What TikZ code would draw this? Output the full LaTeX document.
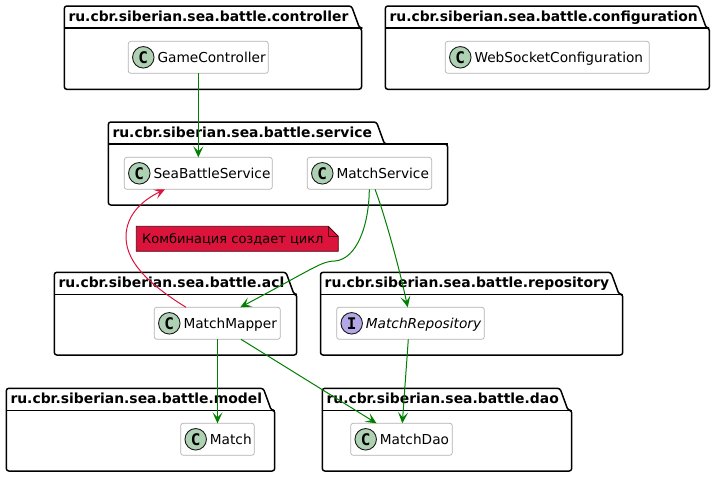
\documentclass[tikz,border=0pt]{standalone}
\usepackage{fontspec}
\setmainfont{DejaVu Sans}
\newfontfamily\spotfont{DejaVu Sans Mono}
\usetikzlibrary{arrows.meta,calc}
\definecolor{spotC}{HTML}{ADD1B2}
\definecolor{spotI}{HTML}{B4A7E5}
\definecolor{notered}{HTML}{DC143C}
\definecolor{linkgreen}{HTML}{008000}
\tikzset{
  x=1pt,y=-1pt,
  pkgline/.style={draw=black,line width=1.5pt,line join=round,fill=white},
  pkgsep/.style={draw=black,line width=1.5pt},
  pkgtitle/.style={anchor=base west,inner sep=0pt,font=\fontsize{13.9}{16}\selectfont\bfseries},
  clsbox/.style={draw=black!30,line width=0.7pt,fill=white,rounded corners=2.5pt,inner sep=0pt,outer sep=0pt},
  spot/.style={circle,draw=black!90,line width=0.9pt,minimum size=21.5pt,inner sep=0pt,font=\spotfont\fontsize{16}{16}\selectfont\bfseries},
  clsname/.style={anchor=base west,inner sep=0pt,font=\fontsize{13.7}{16}\selectfont},
  tip/.style={-{Stealth[length=11pt,width=10pt,inset=5pt]}},
  glink/.style={tip,draw=linkgreen,line width=1pt},
  rlink/.style={tip,draw=notered,line width=1pt},
  notebox/.style={draw=black!65!notered,line width=0.8pt,fill=notered,line join=round},
  notetext/.style={anchor=base west,inner sep=0pt,font=\fontsize{13}{15}\selectfont}
}
% #1 left #2 top #3 right #4 bottom #5 tab top right #6 title
\newcommand{\pkgshape}[6]{%
  \draw[pkgline,rounded corners=2.5pt] (#1,#2+22) -- (#1,#2) -- (#5,#2) -- (#5+8,#2+22) -- (#3,#2+22) -- (#3,#4) -- (#1,#4) -- cycle;
  \draw[pkgsep] (#1,#2+22) -- (#5+8,#2+22) -- (#3,#2+22);
  \node[pkgtitle] at (#1+4,#2+15) {#6};
}
% #1 name #2 x1 #3 y1 #4 x2 #5 y2 #6 spot colour #7 letter #8 text
\newcommand{\clsshape}[8]{%
  \node[clsbox,minimum width={(#4-#2)*1pt},minimum height={(#5-#3)*1pt}] (#1) at ({(#2+#4)/2},{(#3+#5)/2}) {};
  \node[spot,fill=#6] (#1-spot) at (#2+15,{(#3+#5)/2}) {#7};
  \node[clsname] (#1-name) at (#2+29,{(#3+#5)/2+5}) {#8};
}
\begin{document}
\begin{tikzpicture}
\useasboundingbox (0,0) rectangle (716,477);
\fill[white] (0,0) rectangle (716,477);
\pkgshape{64.3}{6}{361.5}{89.3}{351.5}{ru.cbr.siberian.sea.battle.controller}
\pkgshape{385.3}{6}{709.3}{89.3}{698.3}{ru.cbr.siberian.sea.battle.configuration}
\pkgshape{108.3}{122}{447.5}{205}{376.5}{ru.cbr.siberian.sea.battle.service}
\pkgshape{54.3}{272.3}{296.7}{355}{286}{ru.cbr.siberian.sea.battle.acl}
\pkgshape{320.5}{272.3}{622.7}{355}{611}{ru.cbr.siberian.sea.battle.repository}
\pkgshape{6.3}{388.3}{274.7}{471}{263.3}{ru.cbr.siberian.sea.battle.model}
\pkgshape{322.3}{388.3}{571.7}{471}{560}{ru.cbr.siberian.sea.battle.dao}

\clsshape{gc}{128.3}{41.3}{268.3}{73.3}{spotC}{C}{GameController}
\clsshape{ws}{445.3}{41.3}{649.3}{73.3}{spotC}{C}{WebSocketConfiguration}
\clsshape{sb}{124.3}{157.3}{272.3}{189.3}{spotC}{C}{SeaBattleService}
\clsshape{ms}{307.3}{157.3}{431.7}{189.3}{spotC}{C}{MatchService}
\clsshape{mm}{154.3}{307.3}{280.3}{339.3}{spotC}{C}{MatchMapper}
\clsshape{mr}{336.7}{307.3}{484.3}{339.3}{spotI}{I}{\itshape MatchRepository}
\clsshape{md}{350.7}{423.3}{452.3}{455.3}{spotC}{C}{MatchDao}
\clsshape{ma}{180.7}{423.3}{254.3}{455.3}{spotC}{C}{Match}

% note
\draw[notebox] (136.3,226.3) -- (328.3,226.3) -- (338.3,236.3) -- (338.3,251.3) -- (136.3,251.3) -- cycle;
\draw[notebox,fill=none] (328.3,226.3) -- (328.3,236.3) -- (338.3,236.3);
\node[notetext] (note) at (142,243.5) {Комбинация создает цикл};

% connectors
\draw[glink] (gc.south) -- ([xshift=0pt]sb.north);
\draw[rlink] ([xshift=-31.3pt]mm.north) .. controls (155,288) and (126,265) .. (126,237) .. controls (126,213) and (145,199) .. ([xshift=-33.3pt]sb.south);
\draw[glink] ([xshift=-0.2pt]ms.south) .. controls (369,225) and (357,259) .. (335,261) .. controls (322,261) and (316,267) .. ([xshift=23pt]mm.north);
\draw[glink] ([xshift=5.5pt]ms.south) .. controls (383,210) and (398,262) .. ([xshift=-2.8pt]mr.north);
\draw[glink] ([xshift=0.2pt]mm.south) -- ([xshift=0pt]ma.north);
\draw[glink] ([xshift=23.7pt]mm.south) -- ([xshift=-25pt]md.north);
\draw[glink] ([xshift=-2.2pt]mr.south) -- ([xshift=0.8pt]md.north);
\end{tikzpicture}
\end{document}
